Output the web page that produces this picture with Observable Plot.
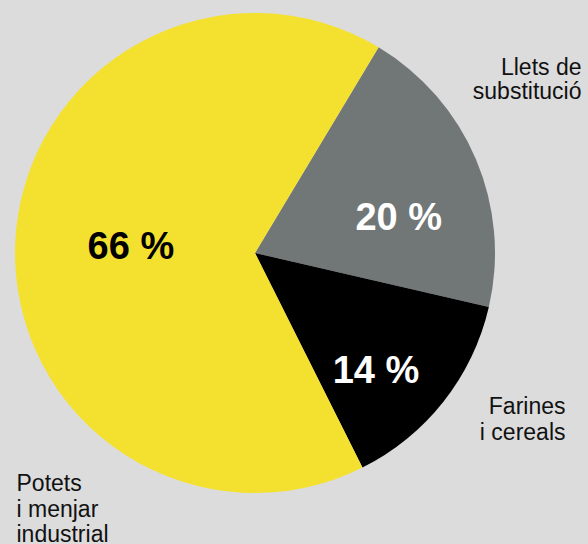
<!DOCTYPE html>
<html>
<head>
<meta charset="utf-8">
<script src="https://cdn.jsdelivr.net/npm/d3@7"></script>
<script src="https://cdn.jsdelivr.net/npm/@observablehq/plot@0.6"></script>
<style>
  html, body { margin: 0; padding: 0; background: #dcdcdd; }
  #chart svg { display: block; }
</style>
</head>
<body>
<div id="chart"></div>
<script>
// ---- data ----
const categories = ["Llets de substitució", "Farines i cereals", "Potets i menjar industrial"];
const shares = [20, 14, 66];
const percentLabels = ["20 %", "14 %", "66 %"];
const outerLabels = ["Llets de\nsubstitució", "Farines\ni cereals", "Potets\ni menjar\nindustrial"];

// ---- styles ----
const sliceColors = ["#717677", "#000000", "#f4e12f"];
const percentColors = ["#ffffff", "#ffffff", "#000000"];
const startDeg = 31;
// label placement (radius fraction, angle nudge in degrees)
const percentLayout = [{r: 0.615, nudge: 9}, {r: 0.70, nudge: 6}, {r: 0.52, nudge: 1}];

const data = categories.map((c, i) => ({category: c, share: shares[i], percent: percentLabels[i], outer: outerLabels[i]}));
const startA = startDeg * Math.PI / 180;
const arcs = d3.pie().sort(null).value(d => d.share).startAngle(startA).endAngle(startA + 2 * Math.PI)(data);

const percentData = arcs.map((a, i) => {
  const mid = (a.startAngle + a.endAngle) / 2 + percentLayout[i].nudge * Math.PI / 180;
  const r = percentLayout[i].r;
  return {x: r * Math.sin(mid), y: r * Math.cos(mid), text: a.data.percent, color: percentColors[i]};
});

function pieMark(index, scales, values, dimensions, context) {
  const cx = scales.x(0), cy = scales.y(0);
  const r = Math.abs(scales.x(1) - scales.x(0));
  const arc = d3.arc().innerRadius(0).outerRadius(r);
  const colorOf = (d) => scales.color ? scales.color(d.data.category) : sliceColors[categories.indexOf(d.data.category)];
  const g = d3.create("svg:g").attr("transform", `translate(${cx},${cy})`);
  g.selectAll("path").data(arcs).join("path")
    .attr("d", arc)
    .attr("fill", colorOf);
  return g.node();
}

const font = "'Liberation Sans', Arial, Helvetica, sans-serif";

const chart = Plot.plot({
  width: 588,
  height: 544,
  marginLeft: 15,
  marginRight: 93,
  marginTop: 13,
  marginBottom: 51,
  x: {domain: [-1, 1], axis: null},
  y: {domain: [-1, 1], axis: null},
  color: {domain: categories, range: sliceColors},
  style: {background: "#dcdcdd", fontFamily: font, overflow: "visible"},
  marks: [
    pieMark,
    Plot.text(percentData, {x: "x", y: "y", text: "text", fill: "color", fontSize: 38, fontWeight: "bold"}),
    Plot.text([data[0]], {text: "outer", frameAnchor: "top-right", textAnchor: "end", lineAnchor: "top", dx: 86, dy: 44, fontSize: 23, lineHeight: 1.06, fill: "#111"}),
    Plot.text([data[1]], {text: "outer", frameAnchor: "top-right", textAnchor: "end", lineAnchor: "top", dx: 70, dy: 383, fontSize: 23, lineHeight: 1.1, fill: "#111"}),
    Plot.text([data[2]], {text: "outer", frameAnchor: "bottom-left", textAnchor: "start", lineAnchor: "top", dx: 1, dy: -20, fontSize: 23, lineHeight: 1.1, fill: "#111"})
  ]
});
document.getElementById("chart").appendChild(chart);
</script>
</body>
</html>
